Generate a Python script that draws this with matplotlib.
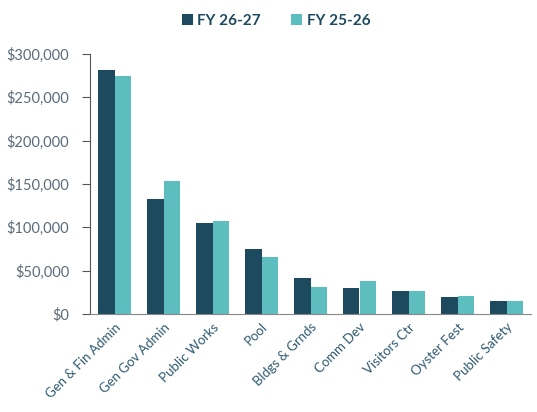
import numpy as np
import matplotlib.pyplot as plt
from matplotlib.ticker import FuncFormatter

# departments and budget figures
departments = ["Gen & Fin Admin", "Gen Gov Admin", "Public Works", "Pool", "Bldgs & Grnds",
               "Comm Dev", "Visitors Ctr", "Oyster Fest", "Public Safety"]
fy_26_27 = [282000, 133000, 105000, 75000, 42000, 30000, 27000, 20000, 15000]
fy_25_26 = [275000, 153000, 107000, 66000, 31000, 38000, 26000, 21000, 15000]

dark = "#1d4a5e"
light = "#5dbdbf"
text_col = "#5b6b78"

plt.rcParams['font.family'] = ['Lato', 'DejaVu Sans']

fig = plt.figure(figsize=(5.37, 4.12), dpi=100)
ax = fig.add_axes([90 / 537, 1 - 314 / 412, 441 / 537, 260 / 412])

x = np.arange(len(departments))
w = 0.335
ax.bar(x - w / 2, fy_26_27, w, color=dark, label="FY 26-27")
ax.bar(x + w / 2, fy_25_26, w, color=light, label="FY 25-26")

ax.set_xlim(-0.5, len(departments) - 0.5)
ax.set_ylim(0, 300000)
ax.set_yticks(range(0, 300001, 50000))
ax.yaxis.set_major_formatter(FuncFormatter(lambda v, p: f"${v:,.0f}"))
ax.set_xticks(x)
ax.set_xticklabels(departments, rotation=45, ha="right", rotation_mode="anchor")

for s in ["top", "right"]:
    ax.spines[s].set_visible(False)
ax.spines["left"].set_color("#555555")
ax.spines["bottom"].set_color("#888888")
ax.tick_params(axis="y", colors="#555555", labelcolor=text_col, labelsize=10.5, length=6, pad=9)
ax.tick_params(axis="x", length=0, labelcolor="#2e5a70", labelsize=9.5, pad=5)

fig.legend(loc="upper center", bbox_to_anchor=(276 / 537, 1.0), ncol=2, frameon=False,
           prop={"weight": "bold", "size": 11}, handlelength=0.7, handleheight=0.7,
           columnspacing=2.0, handletextpad=0.3, labelcolor="#1d4a5e")

fig.savefig("out.png", dpi=100)
